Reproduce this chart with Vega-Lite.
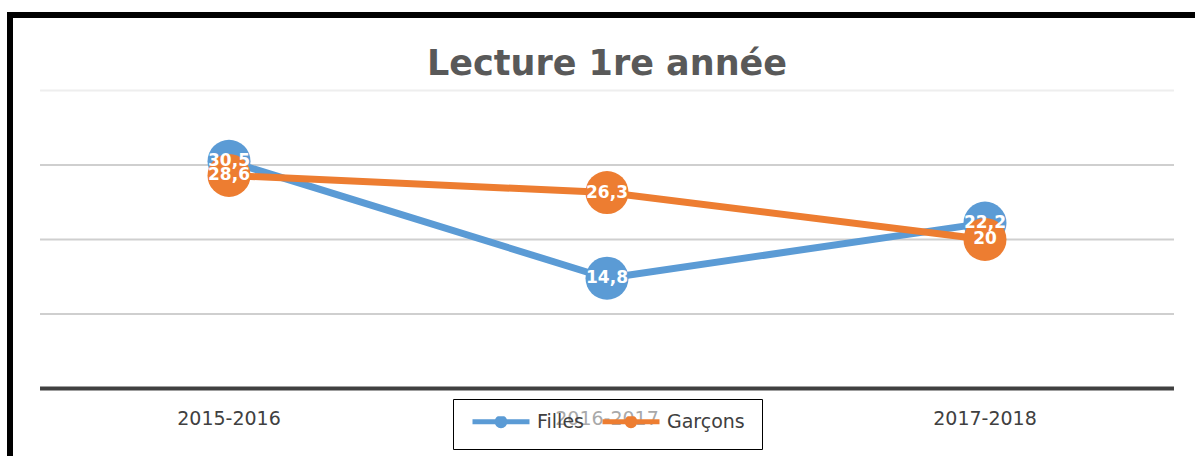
{
  "$schema": "https://vega.github.io/schema/vega-lite/v6.json",
  "width": 1194,
  "height": 455,
  "padding": {"left": 10, "top": 15, "right": 0, "bottom": 0},
  "background": "white",
  "title": {
    "text": "Lecture 1re année",
    "anchor": "middle",
    "frame": "group",
    "offset": -95,
    "baseline": "alphabetic",
    "font": "DejaVu Sans",
    "fontSize": 35,
    "fontWeight": "bold",
    "color": "#595959"
  },
  "datasets": {
    "series": [
      {"annee": "2015-2016", "serie": "Filles", "valeur": 30.5},
      {"annee": "2016-2017", "serie": "Filles", "valeur": 14.8},
      {"annee": "2017-2018", "serie": "Filles", "valeur": 22.2},
      {"annee": "2015-2016", "serie": "Garçons", "valeur": 28.6},
      {"annee": "2016-2017", "serie": "Garçons", "valeur": 26.3},
      {"annee": "2017-2018", "serie": "Garçons", "valeur": 20}
    ],
    "grille": [
      {"v": 0, "de": "2015-2016", "a": "2017-2018"},
      {"v": 10, "de": "2015-2016", "a": "2017-2018"},
      {"v": 20, "de": "2015-2016", "a": "2017-2018"},
      {"v": 30, "de": "2015-2016", "a": "2017-2018"},
      {"v": 40, "de": "2015-2016", "a": "2017-2018"}
    ]
  },
  "layer": [
    {
      "data": {"name": "grille"},
      "transform": [{"filter": "datum.v > 0 && datum.v < 40"}],
      "mark": {"type": "rule", "color": "#cfcfcf", "strokeWidth": 2},
      "encoding": {
        "x": {"field": "de", "type": "nominal", "bandPosition": 0},
        "x2": {"field": "a", "bandPosition": 1},
        "y": {"field": "v", "type": "quantitative", "scale": {"domain": [-10.94, 50.13], "nice": false, "zero": false}}
      }
    },
    {
      "data": {"name": "grille"},
      "transform": [{"filter": "datum.v == 40"}],
      "mark": {"type": "rule", "color": "#eeeeee", "strokeWidth": 2},
      "encoding": {
        "x": {"field": "de", "type": "nominal", "bandPosition": 0},
        "x2": {"field": "a", "bandPosition": 1},
        "y": {"field": "v", "type": "quantitative"}
      }
    },
    {
      "data": {"name": "grille"},
      "transform": [{"filter": "datum.v == 0"}],
      "mark": {"type": "rule", "color": "#404040", "strokeWidth": 4},
      "encoding": {
        "x": {"field": "de", "type": "nominal", "bandPosition": 0},
        "x2": {"field": "a", "bandPosition": 1},
        "y": {"field": "v", "type": "quantitative"}
      }
    },
    {
      "data": {"name": "series"},
      "mark": {"type": "line", "strokeWidth": 7, "strokeCap": "round", "strokeJoin": "round"},
      "encoding": {
        "x": {"field": "annee", "type": "nominal"},
        "y": {"field": "valeur", "type": "quantitative", "scale": {"domain": [-10.94, 50.13], "nice": false, "zero": false}},
        "color": {"field": "serie", "type": "nominal"}
      }
    },
    {
      "data": {"name": "series"},
      "mark": {"type": "point", "filled": true, "opacity": 1, "shape": "circle", "size": 1849},
      "encoding": {
        "x": {"field": "annee", "type": "nominal"},
        "y": {"field": "valeur", "type": "quantitative"},
        "color": {"field": "serie", "type": "nominal"}
      }
    },
    {
      "data": {"name": "series"},
      "mark": {"type": "text", "color": "white", "font": "DejaVu Sans", "fontSize": 17, "fontWeight": "bold", "align": "center", "baseline": "middle"},
      "encoding": {
        "x": {"field": "annee", "type": "nominal"},
        "y": {"field": "valeur", "type": "quantitative"},
        "text": {"field": "valeur", "type": "quantitative", "format": ".1~f"}
      }
    }
  ],
  "resolve": {"scale": {"x": "shared", "y": "shared"}},
  "config": {
    "locale": {"number": {"decimal": ",", "thousands": " ", "grouping": [3], "currency": ["", " €"]}},
    "view": {"stroke": "black", "strokeWidth": 6},
    "scale": {"bandPaddingInner": 0, "bandPaddingOuter": 0.0794},
    "axisX": {
      "orient": "bottom",
      "offset": -82,
      "domain": false,
      "ticks": false,
      "grid": false,
      "title": null,
      "labelAngle": 0,
      "labelBaseline": "middle",
      "labelPadding": 30,
      "labelFont": "DejaVu Sans",
      "labelFontSize": 19,
      "labelColor": "#404040"
    },
    "axisY": {"disable": true},
    "range": {"category": ["#5b9bd5", "#ed7d31"]},
    "legend": {
      "orient": "none",
      "legendX": 443,
      "legendY": 384,
      "direction": "horizontal",
      "title": null,
      "padding": 17,
      "clipHeight": 11,
      "strokeColor": "#000000",
      "fillColor": "rgba(255,255,255,0.55)",
      "columnPadding": 16,
      "labelOffset": 5,
      "labelFont": "DejaVu Sans",
      "labelFontSize": 19,
      "labelColor": "#404040",
      "symbolType": "M-1,0L1,0M0.14,0A0.14,0.14,0,1,1,-0.14,0A0.14,0.14,0,1,1,0.14,0Z",
      "symbolSize": 3249,
      "symbolStrokeWidth": 5
    }
  }
}
